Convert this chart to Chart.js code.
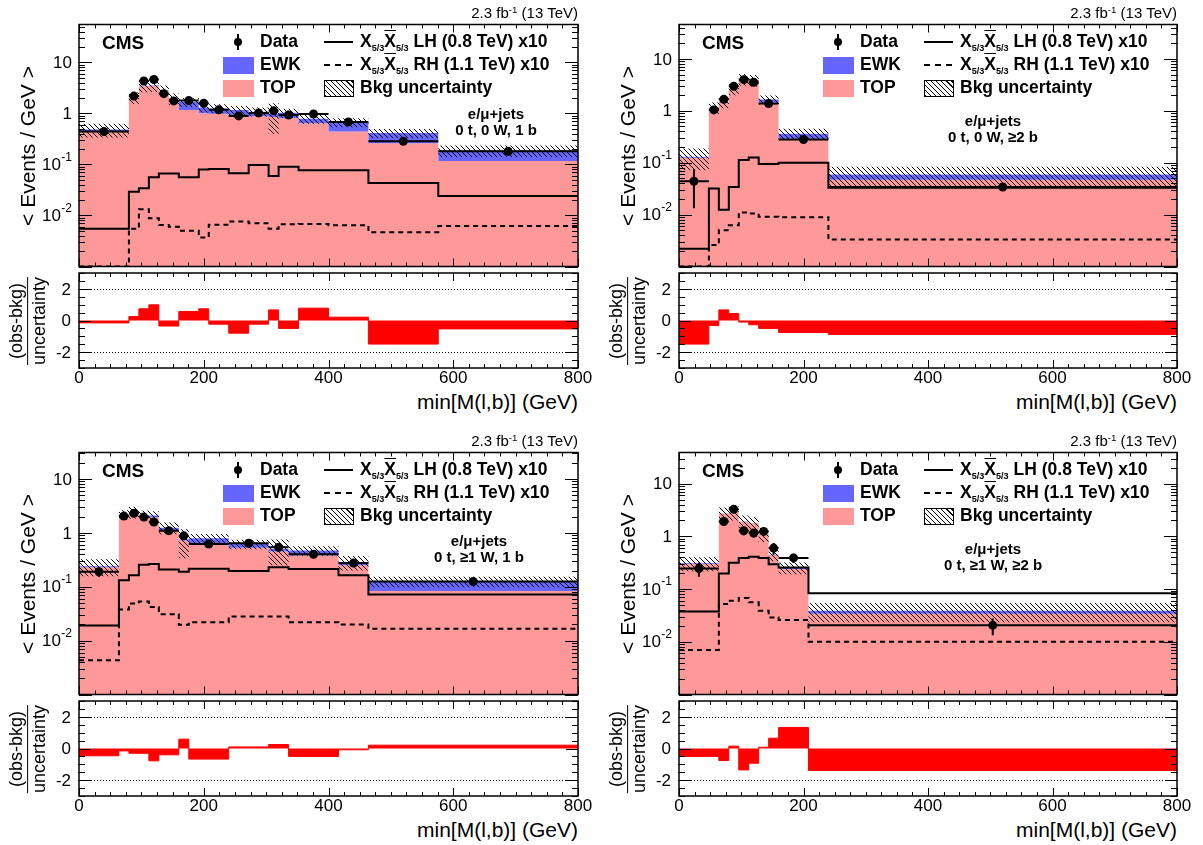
<!DOCTYPE html>
<html>
<head>
<meta charset="utf-8">
<title>min[M(l,b)]</title>
<script src="https://cdn.jsdelivr.net/npm/chart.js@4.4.1/dist/chart.umd.min.js"></script>
<style>
  html, body { margin: 0; padding: 0; background: #fff; }
  #page { position: relative; width: 1203px; height: 845px; overflow: hidden; font-family: "Liberation Sans", Arial, sans-serif; color: #000; }
  #page canvas { position: absolute; }
  .t { position: absolute; white-space: nowrap; line-height: 1; }
  .b { font-weight: bold; }
  .box { position: absolute; box-sizing: border-box; }
  sub { font-size: 52%; vertical-align: -0.45em; line-height: 0; }
  sup { font-size: 65%; vertical-align: 0.55em; line-height: 0; }
  .ov { text-decoration: overline; }
</style>
</head>
<body>
<div id="page"></div>
<script>
// tick labels
const xTicks = [0, 200, 400, 600, 800];
const logTicks = [0.01, 0.1, 1, 10];
const logTickText = [['10', '-2'], ['10', '-1'], ['1', ''], ['10', '']];
const ratioTicks = [-2, 0, 2];
const ratioGuides = [-2, 2];

// 0 t, 0 W, 1 b
const edgesA = [0, 80, 96, 112, 128, 144, 160, 192, 208, 240, 272, 304, 320, 352, 400, 464, 576, 800];
const topA = [0.44, 2.0, 3.4, 3.45, 2.75, 1.9, 1.16, 1.0, 0.98, 0.93, 0.88, 0.85, 0.8, 0.64, 0.44, 0.26, 0.117];
const ewkA = [0.04, 0.05, 0.06, 0.05, 0.05, 0.06, 0.5, 0.3, 0.27, 0.23, 0.2, 0.13, 0.23, 0.14, 0.23, 0.15, 0.07];
const uncA = [0.3, 0.25, 0.25, 0.25, 0.25, 0.25, 0.2, 0.2, 0.2, 0.2, 0.2, 0.6, 0.2, 0.2, 0.2, 0.2, 0.25];
const dataA = [0.44, 2.18, 4.3, 4.6, 2.43, 1.75, 1.78, 1.58, 1.17, 0.89, 1.02, 1.12, 0.93, 0.97, 0.68, 0.284, 0.18];
const errA = [0.1, 0.07, 0.05, 0.05, 0.07, 0.08, 0.06, 0.1, 0.07, 0.08, 0.07, 0.17, 0.08, 0.07, 0.07, 0.08, 0.07];
const lhA = [0.0055, 0.029, 0.034, 0.056, 0.066, 0.066, 0.056, 0.079, 0.081, 0.067, 0.097, 0.059, 0.09, 0.077, 0.077, 0.043, 0.024];
const rhA = [0.001, 0.0055, 0.0133, 0.0088, 0.0065, 0.006, 0.005, 0.0037, 0.0066, 0.0076, 0.007, 0.0055, 0.0067, 0.0068, 0.0064, 0.0047, 0.0062];
const ratioA = [-0.15, 0.25, 0.74, 0.99, -0.35, -0.35, 0.57, 0.74, -0.23, -0.8, -0.23, 0.67, -0.5, 0.78, 0.21, -1.49, -0.53];

// 0 t, 0 W, >=2 b
const edgesB = [0, 48, 64, 80, 96, 112, 128, 160, 240, 800];
const topB = [0.125, 1.12, 1.45, 2.6, 4.0, 3.8, 1.45, 0.29, 0.047];
const ewkB = [0.005, 0.04, 0.05, 0.06, 0.1, 0.1, 0.2, 0.07, 0.012];
const uncB = [0.45, 0.25, 0.25, 0.25, 0.25, 0.25, 0.2, 0.25, 0.42];
const dataB = [0.044, 1.04, 1.66, 2.97, 3.98, 3.55, 1.38, 0.28, 0.034];
const errB = [0.7, 0.15, 0.1, 0.07, 0.06, 0.07, 0.1, 0.12, 0.15];
const lhB = [0.0022, 0.032, 0.0124, 0.034, 0.113, 0.126, 0.094, 0.1, 0.033];
const rhB = [0.001, 0.0026, 0.005, 0.0062, 0.011, 0.0105, 0.0091, 0.0089, 0.0033];
const ratioB = [-1.49, -0.32, 0.67, 0.44, -0.1, -0.27, -0.5, -0.76, -0.88];

// 0 t, >=1 W, 1 b
const edgesC = [0, 64, 80, 96, 112, 128, 160, 176, 240, 304, 336, 416, 464, 800];
const topC = [0.23, 2.15, 2.3, 2.0, 1.95, 1.1, 0.72, 0.64, 0.53, 0.45, 0.38, 0.25, 0.083];
const ewkC = [0.01, 0.05, 0.15, 0.15, 0.15, 0.15, 0.03, 0.15, 0.09, 0.05, 0.09, 0.035, 0.042];
const uncC = [0.35, 0.2, 0.25, 0.2, 0.2, 0.25, 0.55, 0.2, 0.2, 0.5, 0.2, 0.3, 0.22];
const dataC = [0.19, 2.05, 2.3, 1.96, 1.59, 1.1, 0.88, 0.62, 0.64, 0.54, 0.4, 0.275, 0.125];
const errC = [0.2, 0.08, 0.07, 0.08, 0.1, 0.1, 0.15, 0.08, 0.07, 0.1, 0.07, 0.12, 0.1];
const lhC = [0.019, 0.132, 0.163, 0.257, 0.263, 0.21, 0.19, 0.216, 0.195, 0.229, 0.213, 0.163, 0.072];
const rhC = [0.0043, 0.038, 0.049, 0.053, 0.042, 0.031, 0.0196, 0.022, 0.028, 0.028, 0.022, 0.02, 0.0166];
const ratioC = [-0.46, -0.15, -0.3, -0.3, -0.78, -0.4, 0.59, -0.67, 0.1, 0.25, -0.5, -0.08, 0.21];

// 0 t, >=1 W, >=2 b
const edgesD = [0, 64, 80, 96, 112, 128, 144, 160, 208, 800];
const topD = [0.3, 2.7, 2.85, 1.9, 1.75, 1.1, 0.44, 0.24, 0.034];
const ewkD = [0.01, 0.02, 0.02, 0.02, 0.02, 0.02, 0.01, 0.015, 0.005];
const uncD = [0.3, 0.3, 0.3, 0.3, 0.3, 0.3, 0.25, 0.25, 0.4];
const dataD = [0.245, 1.91, 3.27, 1.28, 1.16, 1.24, 0.6, 0.39, 0.0205];
const errD = [0.3, 0.15, 0.08, 0.18, 0.18, 0.15, 0.25, 0.2, 0.35];
const lhD = [0.0376, 0.197, 0.316, 0.39, 0.41, 0.39, 0.295, 0.256, 0.083];
const rhD = [0.007, 0.052, 0.06, 0.068, 0.056, 0.039, 0.029, 0.026, 0.01];
const ratioD = [-0.5, -0.76, 0.15, -1.35, -0.93, 0.08, 0.65, 1.33, -1.39];

const TOP_COLOR = '#ff9999';
const EWK_COLOR = '#6666ff';
const RATIO_COLOR = '#ff0000';
const FONT = '"Liberation Sans", Arial, sans-serif';

// panel layout (page pixels)
const panels = [
  { x0: 0, w: 600, L: 79, R: 578, T: 23, B: 269, rT: 273, rB: 368, yMax: 55,
    edges: edgesA, top: topA, ewk: ewkA, unc: uncA, obs: dataA, err: errA, lh: lhA, rh: rhA, ratio: ratioA,
    chan: '0 t, 0 W, 1 b', chanX: 417, chanY: 90 },
  { x0: 600, w: 603, L: 679, R: 1177, T: 23, B: 269, rT: 273, rB: 368, yMax: 46,
    edges: edgesB, top: topB, ewk: ewkB, unc: uncB, obs: dataB, err: errB, lh: lhB, rh: rhB, ratio: ratioB,
    chan: '0 t, 0 W, \u22652 b', chanX: 314, chanY: 97 },
  { x0: 0, w: 600, L: 79, R: 578, T: 451, B: 697, rT: 701, rB: 796, yMax: 31,
    edges: edgesC, top: topC, ewk: ewkC, unc: uncC, obs: dataC, err: errC, lh: lhC, rh: rhC, ratio: ratioC,
    chan: '0 t, \u22651 W, 1 b', chanX: 400, chanY: 89 },
  { x0: 600, w: 603, L: 679, R: 1177, T: 451, B: 697, rT: 701, rB: 796, yMax: 39,
    edges: edgesD, top: topD, ewk: ewkD, unc: uncD, obs: dataD, err: errD, lh: lhD, rh: rhD, ratio: ratioD,
    chan: '0 t, \u22651 W, \u22652 b', chanX: 314, chanY: 97 }
];

const page = document.getElementById('page');

// histogram as step points: one point per bin low edge, plus the last edge
function steps(edges, vals) {
  const pts = vals.map((v, i) => ({ x: edges[i], y: v }));
  pts.push({ x: edges[edges.length - 1], y: vals[vals.length - 1] });
  return pts;
}

function makeCanvas(left, top, w, h) {
  const c = document.createElement('canvas');
  c.width = w; c.height = h;
  c.style.left = left + 'px'; c.style.top = top + 'px';
  c.style.width = w + 'px'; c.style.height = h + 'px';
  page.appendChild(c);
  return c;
}

function hatchPattern(ctx) {
  const c = document.createElement('canvas');
  c.width = 20; c.height = 20;
  const g = c.getContext('2d');
  g.strokeStyle = '#000';
  g.lineWidth = 1;
  g.beginPath();
  for (let k = -20; k <= 20; k += 5) { g.moveTo(k, 0); g.lineTo(k + 20, 20); }
  g.stroke();
  return ctx.createPattern(c, 'repeat');
}

function addText(html, x, cy, size, opts) {
  opts = opts || {};
  const d = document.createElement('div');
  d.className = 't' + (opts.bold ? ' b' : '');
  d.style.fontSize = size + 'px';
  d.style.top = (cy - size * 0.5) + 'px';
  if (opts.align === 'right') {
    d.style.right = (1203 - x) + 'px';
  } else if (opts.align === 'center') {
    d.style.left = x + 'px';
    d.style.transform = 'translateX(-50%)';
  } else {
    d.style.left = x + 'px';
  }
  d.innerHTML = html;
  page.appendChild(d);
  return d;
}

function addRotated(html, cx, cy, size, css) {
  const d = document.createElement('div');
  d.className = 't';
  d.style.fontSize = size + 'px';
  d.style.left = cx + 'px';
  d.style.top = cy + 'px';
  d.style.transform = 'translate(-50%, -50%) rotate(-90deg)';
  if (css) Object.assign(d.style, css);
  d.innerHTML = html;
  page.appendChild(d);
}

function addBox(left, top, w, h, css) {
  const d = document.createElement('div');
  d.className = 'box';
  Object.assign(d.style, { left: left + 'px', top: top + 'px', width: w + 'px', height: h + 'px' }, css);
  page.appendChild(d);
}

// frame, inner ticks and tick labels, ROOT style
function framePlugin(kind) {
  return {
    id: 'rootFrame',
    afterDatasetsDraw(chart) {
      const { ctx, chartArea: a, scales: { x, y } } = chart;
      ctx.save();
      ctx.strokeStyle = '#000';
      if (kind === 'ratio') {
        ctx.lineWidth = 1;
        ctx.setLineDash([1, 2]);
        ctx.beginPath();
        ratioGuides.forEach(v => {
          const py = Math.round(y.getPixelForValue(v)) + 0.5;
          ctx.moveTo(a.left, py); ctx.lineTo(a.right, py);
        });
        ctx.stroke();
        ctx.setLineDash([]);
      }
      ctx.lineWidth = 1;
      ctx.beginPath();
      for (let v = 0; v <= 800; v += 25) {
        const px = Math.round(x.getPixelForValue(v)) + 0.5;
        const len = v % 200 === 0 ? 8 : 4;
        ctx.moveTo(px, a.bottom); ctx.lineTo(px, a.bottom - len);
        ctx.moveTo(px, a.top); ctx.lineTo(px, a.top + len);
      }
      if (kind === 'main') {
        for (let e = -3; e <= 1; e++) {
          for (let m = 1; m <= 9; m++) {
            const v = m * Math.pow(10, e);
            if (v < y.min * 0.999 || v > y.max) continue;
            const py = Math.round(y.getPixelForValue(v)) + 0.5;
            const len = m === 1 ? 13 : 6;
            ctx.moveTo(a.left, py); ctx.lineTo(a.left + len, py);
            ctx.moveTo(a.right, py); ctx.lineTo(a.right - len, py);
          }
        }
      } else {
        ratioTicks.forEach(v => {
          const py = Math.round(y.getPixelForValue(v)) + 0.5;
          ctx.moveTo(a.left, py); ctx.lineTo(a.left + 12, py);
          ctx.moveTo(a.right, py); ctx.lineTo(a.right - 12, py);
        });
        for (let v = -3; v <= 3; v += 0.5) {
          if (v % 2 === 0) continue;
          const py = Math.round(y.getPixelForValue(v)) + 0.5;
          ctx.moveTo(a.left, py); ctx.lineTo(a.left + 6, py);
          ctx.moveTo(a.right, py); ctx.lineTo(a.right - 6, py);
        }
      }
      ctx.stroke();
      ctx.lineWidth = 1.5;
      ctx.strokeRect(a.left, a.top, a.right - a.left, a.bottom - a.top);

      ctx.fillStyle = '#000';
      ctx.textBaseline = 'middle';
      ctx.textAlign = 'right';
      if (kind === 'main') {
        logTicks.forEach((v, i) => {
          const py = y.getPixelForValue(v);
          const base = logTickText[i][0], sup = logTickText[i][1];
          let xr = a.left - 7;
          if (sup) {
            ctx.font = '12px ' + FONT;
            ctx.fillText(sup, xr, py - 7);
            xr -= ctx.measureText(sup).width + 0.5;
          }
          ctx.font = '17px ' + FONT;
          ctx.fillText(base, xr, py + 1);
        });
      } else {
        ctx.font = '17px ' + FONT;
        ratioTicks.forEach(v => ctx.fillText(String(v), a.left - 8, y.getPixelForValue(v) + 1));
        ctx.textAlign = 'center';
        xTicks.forEach(v => ctx.fillText(String(v), x.getPixelForValue(v), a.bottom + 10));
      }
      ctx.restore();
    }
  };
}

// data points: horizontal bar over the bin, vertical stat error
function errorPlugin(p) {
  return {
    id: 'dataErrors',
    afterDatasetsDraw(chart) {
      const { ctx, scales: { x, y } } = chart;
      ctx.save();
      ctx.strokeStyle = '#000';
      ctx.lineWidth = 2;
      ctx.beginPath();
      p.obs.forEach((v, i) => {
        const xl = x.getPixelForValue(p.edges[i]);
        const xr = x.getPixelForValue(p.edges[i + 1]);
        const xc = (xl + xr) / 2;
        const yc = y.getPixelForValue(v);
        ctx.moveTo(xl, yc); ctx.lineTo(xr, yc);
        ctx.moveTo(xc, y.getPixelForValue(v * (1 + p.err[i])));
        ctx.lineTo(xc, y.getPixelForValue(v * (1 - p.err[i])));
      });
      ctx.stroke();
      ctx.restore();
    }
  };
}

// Chart.js 'before': each segment takes the value of its left point's bin
const lineBase = { stepped: 'before', pointRadius: 0, borderWidth: 0, borderColor: 'rgba(0,0,0,0)', fill: false };

panels.forEach(p => {
  const total = p.top.map((v, i) => v + p.ewk[i]);
  const centers = p.obs.map((v, i) => (p.edges[i] + p.edges[i + 1]) / 2);

  // main plot
  const mc = makeCanvas(p.x0, p.T - 3, p.w, p.B - p.T + 5);
  const mctx = mc.getContext('2d');
  new Chart(mctx, {
    type: 'line',
    data: {
      datasets: [
        { label: 'Data', data: centers.map((c, i) => ({ x: c, y: p.obs[i] })), showLine: false,
          pointRadius: 4.5, pointBackgroundColor: '#000', pointBorderColor: '#000', pointBorderWidth: 0 },
        Object.assign({}, lineBase, { label: 'LH', data: steps(p.edges, p.lh), borderColor: '#000', borderWidth: 2 }),
        Object.assign({}, lineBase, { label: 'RH', data: steps(p.edges, p.rh), borderColor: '#000', borderWidth: 2, borderDash: [5, 4] }),
        Object.assign({}, lineBase, { label: 'Bkg uncertainty', data: steps(p.edges, total.map((t, i) => t * (1 + p.unc[i]))),
          fill: { target: 4 }, backgroundColor: hatchPattern(mctx) }),
        Object.assign({}, lineBase, { label: 'unc low', data: steps(p.edges, total.map((t, i) => t * (1 - p.unc[i]))) }),
        Object.assign({}, lineBase, { label: 'EWK', data: steps(p.edges, total), fill: { target: 6 }, backgroundColor: EWK_COLOR }),
        Object.assign({}, lineBase, { label: 'TOP', data: steps(p.edges, p.top), fill: 'start', backgroundColor: TOP_COLOR })
      ]
    },
    options: {
      responsive: false,
      animation: false,
      events: [],
      layout: { padding: { left: p.L - p.x0, right: p.x0 + p.w - p.R, top: 3, bottom: 2 } },
      scales: {
        x: { type: 'linear', min: 0, max: 800, display: false },
        y: { type: 'logarithmic', min: 0.001, max: p.yMax, display: false }
      },
      plugins: { legend: { display: false }, tooltip: { enabled: false } }
    },
    plugins: [errorPlugin(p), framePlugin('main')]
  });

  // ratio plot
  const rc = makeCanvas(p.x0, p.rT - 3, p.w, p.rB - p.rT + 25);
  new Chart(rc.getContext('2d'), {
    type: 'line',
    data: {
      datasets: [
        Object.assign({}, lineBase, { label: '(obs-bkg)/uncertainty', data: steps(p.edges, p.ratio),
          borderColor: RATIO_COLOR, borderWidth: 1, fill: 'origin', backgroundColor: RATIO_COLOR })
      ]
    },
    options: {
      responsive: false,
      animation: false,
      events: [],
      layout: { padding: { left: p.L - p.x0, right: p.x0 + p.w - p.R, top: 3, bottom: 22 } },
      scales: {
        x: { type: 'linear', min: 0, max: 800, display: false },
        y: { type: 'linear', min: -3, max: 3, display: false }
      },
      plugins: { legend: { display: false }, tooltip: { enabled: false } }
    },
    plugins: [framePlugin('ratio')]
  });

  // texts
  const L = p.L, T = p.T;
  addText('2.3 fb<sup>-1</sup> (13 TeV)', p.R, T - 11, 15, { align: 'right' });
  addText('CMS', L + 23, T + 19, 19, { bold: true });

  // legend
  addBox(L + 155, T + 15, 8, 8, { background: '#000', borderRadius: '50%' });
  addBox(L + 158, T + 11, 2, 16, { background: '#000' });
  addText('Data', L + 181, T + 19, 17.5, { bold: true });
  addBox(L + 144, T + 34, 31, 17, { background: EWK_COLOR });
  addText('EWK', L + 181, T + 42, 17.5, { bold: true });
  addBox(L + 144, T + 57, 31, 17, { background: TOP_COLOR });
  addText('TOP', L + 181, T + 65, 17.5, { bold: true });
  const X53 = 'X<sub>5/3</sub><span class="ov">X</span><sub>5/3</sub>';
  addBox(L + 245, T + 18, 29, 2, { background: '#000' });
  addText(X53 + ' LH (0.8 TeV) x10', L + 281, T + 19, 17.5, { bold: true });
  addBox(L + 245, T + 41, 29, 2, { background: 'repeating-linear-gradient(90deg, #000 0 6px, transparent 6px 11px)' });
  addText(X53 + ' RH (1.1 TeV) x10', L + 281, T + 42, 17.5, { bold: true });
  addBox(L + 245, T + 57, 30, 17, { border: '1px solid #000',
    background: 'repeating-linear-gradient(45deg, #000 0 1px, transparent 1px 3.6px)' });
  addText('Bkg uncertainty', L + 281, T + 65, 17.5, { bold: true });

  // channel
  addText('e/\u03bc+jets', L + p.chanX, T + p.chanY, 15, { bold: true, align: 'center' });
  addText(p.chan, L + p.chanX, T + p.chanY + 16, 15, { bold: true, align: 'center' });

  // axis titles
  addRotated('&lt; Events / GeV &gt;', p.x0 + 27, (p.T + p.B) / 2, 21);
  addRotated('<div style="border-bottom:1px solid #000;padding:0 2px 1px">(obs-bkg)</div><div style="padding-top:2px">uncertainty</div>',
    p.x0 + 28, (p.rT + p.rB) / 2, 18, { textAlign: 'center', lineHeight: '1.05' });
  addText('min[M(l,b)] (GeV)', p.R, p.rB + 33, 21, { align: 'right' });
});
</script>
</body>
</html>
